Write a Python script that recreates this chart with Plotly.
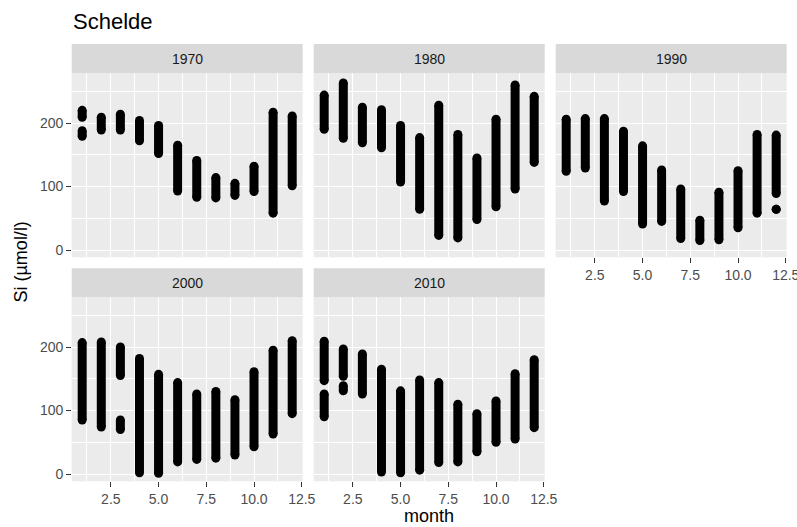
import plotly.graph_objects as go

# ---- data: Si (µmol/l) ranges per month, as (month, low, high) clusters ----
decades = ["1970", "1980", "1990", "2000", "2010"]

si_1970 = [(1, 209, 220), (1, 179, 188), (2, 189, 209), (3, 189, 214), (4, 172, 204),
           (5, 152, 196), (6, 93, 165), (7, 83, 141), (8, 82, 114), (9, 86, 105),
           (10, 92, 132), (11, 58, 217), (12, 101, 211)]
si_1980 = [(1, 190, 244), (2, 176, 263), (3, 169, 225), (4, 161, 221), (5, 107, 196),
           (6, 64, 177), (7, 23, 228), (8, 19, 182), (9, 48, 145), (10, 68, 206),
           (11, 96, 260), (12, 138, 242)]
si_1990 = [(1, 124, 206), (2, 129, 207), (3, 77, 207), (4, 92, 187), (5, 41, 164),
           (6, 45, 126), (7, 18, 96), (8, 15, 47), (9, 16, 91), (10, 35, 125),
           (11, 58, 182), (12, 89, 181), (12, 64, 64)]
si_2000 = [(1, 85, 207), (2, 74, 208), (3, 155, 200), (3, 70, 85), (4, 2, 182),
           (5, 1, 157), (6, 19, 144), (7, 23, 126), (8, 25, 130), (9, 30, 117),
           (10, 43, 161), (11, 63, 195), (12, 95, 210)]
si_2010 = [(1, 147, 209), (1, 90, 126), (2, 154, 197), (2, 131, 139), (3, 126, 189),
           (4, 3, 165), (5, 2, 131), (6, 6, 148), (7, 18, 144), (8, 19, 110),
           (9, 35, 95), (10, 50, 115), (11, 55, 158), (12, 73, 180)]
series = [si_1970, si_1980, si_1990, si_2000, si_2010]

x_ticks = [2.5, 5.0, 7.5, 10.0, 12.5]
x_ticktext = ["2.5", "5.0", "7.5", "10.0", "12.5"]
x_minor = [1.25, 3.75, 6.25, 8.75, 11.25]
y_ticks = [0, 100, 200]
y_ticktext = ["0", "100", "200"]
y_minor = [50, 150, 250]

# ---- layout geometry (pixels) ----
W, H = 797, 527
cols = [(71.7, 302.7), (313.7, 544.7), (555.7, 786.7)]
rows = [(73.3, 257.3), (297.3, 481.3)]
strips = [(44.0, 73.3), (268.3, 297.3)]
cells = [(0, 0), (0, 1), (0, 2), (1, 0), (1, 1)]
show_x = [False, False, True, True, True]
show_y = [True, False, False, True, False]

FONT = "Liberation Sans, Arial, Helvetica, sans-serif"
MS = 9

fig = go.Figure()
shapes, annotations = [], []
layout = {}

def fx(p):
    return p / W

def fy(p):
    return 1 - p / H

for i, (dec, data) in enumerate(zip(decades, series)):
    r, c = cells[i]
    n = "" if i == 0 else str(i + 1)
    xs, ys = [], []
    for (m, lo, hi) in data:
        xs += [m, m, None]
        ys += [lo, hi, None]
    fig.add_trace(go.Scatter(
        x=xs, y=ys, mode="lines+markers", xaxis="x" + n, yaxis="y" + n,
        line=dict(color="black", width=MS), marker=dict(color="black", size=MS, line=dict(width=0)),
        showlegend=False, hoverinfo="skip", connectgaps=False))
    x0, x1 = cols[c]
    y0, y1 = rows[r]
    layout["xaxis" + n] = dict(
        domain=[fx(x0), fx(x1)], anchor="y" + n, range=[0.45, 12.55],
        tickvals=x_ticks, ticktext=x_ticktext, showgrid=True, gridcolor="white", gridwidth=1.3,
        zeroline=False, showline=False, automargin=False, ticklabeloverflow="allow",
        ticks="outside" if show_x[i] else "", ticklen=4.5, tickwidth=1.1, tickcolor="#333333",
        showticklabels=show_x[i], tickfont=dict(family=FONT, size=14, color="#4D4D4D"),
        minor=dict(tickvals=x_minor, showgrid=True, gridcolor="white", gridwidth=0.65, ticks=""),
        fixedrange=True)
    layout["yaxis" + n] = dict(
        domain=[fy(y1), fy(y0)], anchor="x" + n, range=[-11.5, 278.3],
        tickvals=y_ticks, ticktext=y_ticktext, showgrid=True, gridcolor="white", gridwidth=1.3,
        zeroline=False, showline=False, automargin=False,
        ticks="outside" if show_y[i] else "", ticklen=4.5, tickwidth=1.1, tickcolor="#333333",
        showticklabels=show_y[i], tickfont=dict(family=FONT, size=14, color="#4D4D4D"),
        minor=dict(tickvals=y_minor, showgrid=True, gridcolor="white", gridwidth=0.65, ticks=""),
        fixedrange=True)
    s0, s1 = strips[r]
    shapes.append(dict(type="rect", xref="paper", yref="paper", x0=fx(x0), x1=fx(x1),
                       y0=fy(s1), y1=fy(s0), fillcolor="#D9D9D9", line=dict(width=0), layer="below"))
    annotations.append(dict(text=dec, xref="paper", yref="paper", x=fx((x0 + x1) / 2),
                            y=fy((s0 + s1) / 2), showarrow=False, xanchor="center", yanchor="middle",
                            font=dict(family=FONT, size=14, color="#1A1A1A")))

annotations.append(dict(text="Schelde", xref="paper", yref="paper", x=fx(71), y=fy(21.5),
                        showarrow=False, xanchor="left", yanchor="middle",
                        font=dict(family=FONT, size=22, color="black")))
annotations.append(dict(text="Si (µmol/l)", xref="paper", yref="paper", x=fx(20), y=fy(262.5),
                        showarrow=False, xanchor="center", yanchor="middle", textangle=-90,
                        font=dict(family=FONT, size=18, color="black")))
annotations.append(dict(text="month", xref="paper", yref="paper", x=fx(429), y=fy(516),
                        showarrow=False, xanchor="center", yanchor="middle",
                        font=dict(family=FONT, size=18, color="black")))

fig.update_layout(width=W, height=H, autosize=False, margin=dict(l=0, r=0, t=0, b=0, pad=0),
                  paper_bgcolor="white", plot_bgcolor="#EBEBEB",
                  shapes=shapes, annotations=annotations, **layout)

fig.write_html("out.html", config={"responsive": False, "displayModeBar": False},
               default_width="797px", default_height="527px",
               post_script="document.documentElement.style.overflow='hidden';"
                           "document.body.style.overflow='hidden';"
                           "document.body.style.margin='0';")
